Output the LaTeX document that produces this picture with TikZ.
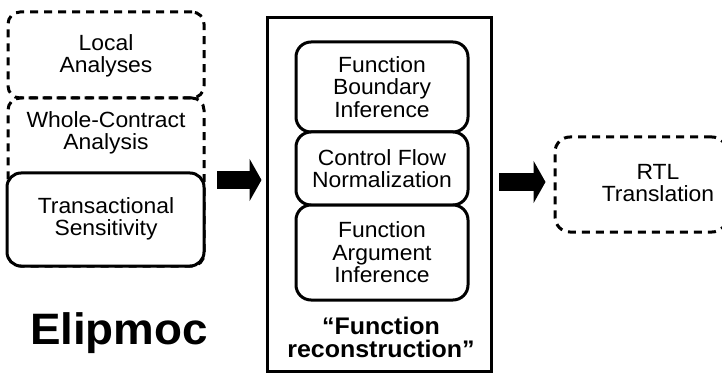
\documentclass[tikz,border=0pt]{standalone}
\usepackage{fontspec}
\setmainfont{Liberation Sans}[FakeStretch=1.04]
\usetikzlibrary{arrows.meta}
\tikzset{
  every node/.style={font=\fontsize{22}{22.5}\selectfont, align=center, inner sep=0pt},
  dashbox/.style={draw, line width=3pt, dash pattern=on 8pt off 6pt, rounded corners=12pt},
  solidbox/.style={draw, line width=3pt, rounded corners=14pt, fill=white},
  framebox/.style={draw, line width=3pt},
  blockarrow/.style={line width=18pt, -{Triangle[length=12pt,width=42pt]}},
  lbl/.style={}
}
\begin{document}
\begin{tikzpicture}[x=1pt,y=-1pt]
\useasboundingbox (0,0) rectangle (722,374);
% left column
\node[dashbox, minimum width=196pt, minimum height=86pt] (local) at (106,55) {};
\node[dashbox, minimum width=196pt, minimum height=168pt] (whole) at (106,182) {};
\node[solidbox, minimum width=197pt, minimum height=93pt] (trans) at (105.5,219.5) {};
\node[lbl] (localt) at (106,56) {Local\\Analyses};
\node[lbl] (wholet) at (106,133) {Whole-Contract\\Analysis};
\node[lbl] (transt) at (106,219) {Transactional\\Sensitivity};
\node[font=\fontsize{44}{46}\selectfont\bfseries, anchor=base] (elip) at (119,344) {Elipmoc};
% middle frame
\node[framebox, minimum width=224pt, minimum height=353pt] (frame) at (379,194.5) {};
\node[solidbox, rounded corners=15pt, minimum width=172pt, minimum height=90pt] (fbi) at (382,87) {Function\\Boundary\\Inference};
\node[solidbox, rounded corners=15pt, minimum width=172pt, minimum height=73pt] (cfn) at (382,168.5) {Control Flow\\Normalization};
\node[solidbox, rounded corners=15pt, minimum width=172pt, minimum height=95pt] (fai) at (382,252.5) {Function\\Argument\\Inference};
\node[font=\fontsize{24}{23}\selectfont\bfseries] (recon) at (381,337) {``Function\\reconstruction''};
% right
\node[dashbox, rounded corners=15pt, minimum width=172pt, minimum height=95pt] (rtl) at (641,184.5) {};
\node (rtlt) at (658,183) {RTL\\Translation};
% arrows
\coordinate (a1s) at (217,180);
\coordinate (a2s) at (499,182);
\draw[blockarrow] (a1s) -- ([xshift=-4pt]frame.west |- a1s);
\draw[blockarrow] (a2s) -- ([xshift=-8pt]rtl.west |- a2s);
\end{tikzpicture}
\end{document}
